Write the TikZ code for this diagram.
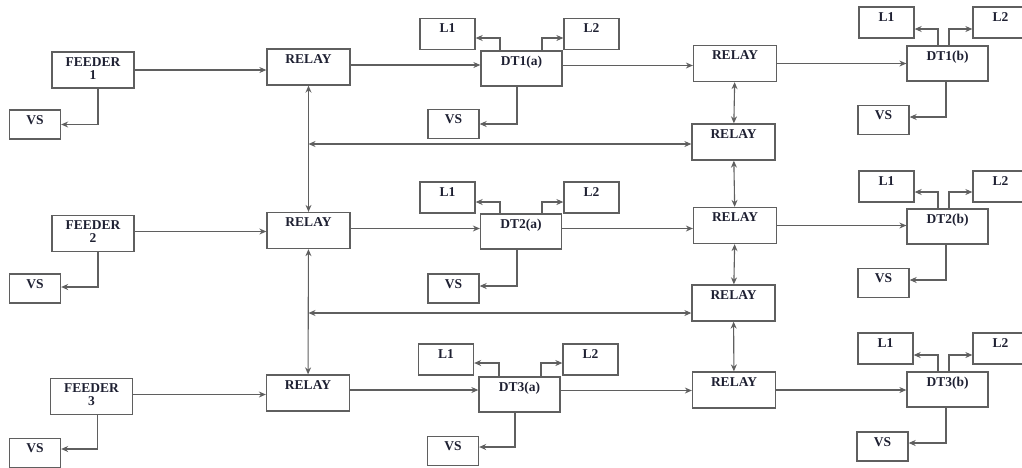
\documentclass[tikz,border=0pt]{standalone}
\usepackage{fontspec}
\setmainfont{Liberation Serif}
\usetikzlibrary{arrows.meta}
\definecolor{relaygray}{RGB}{95, 95, 95}
\definecolor{relayink}{RGB}{30, 32, 50}

\begin{document}
\begin{tikzpicture}[
    x=1pt, y=-1pt,
    box/.style={rectangle, draw=relaygray, line width=1.3pt, align=center,
                inner xsep=1pt, inner ysep=0pt, text height=14pt,
                text=relayink, font=\bfseries\fontsize{13.5}{13}\selectfont},
    feeder/.style={box, minimum width=82pt, text height=27pt, text depth=9pt},
    relay/.style={box, minimum width=83pt, text depth=22pt},
    dt/.style={box, minimum width=81pt, text depth=21pt},
    load/.style={box, minimum width=55pt, text depth=17pt},
    vs/.style={box, minimum width=51pt, text depth=15pt},
    arrow/.style={-{Stealth[length=7pt, width=6pt]}, line width=1.1pt, color=relaygray},
    dbl/.style={{Stealth[length=7pt, width=6pt]}-{Stealth[length=7pt, width=6pt]},
                line width=1.1pt, color=relaygray}
  ]
    \useasboundingbox (0,0) rectangle (1022,467);

    % row 1
    \node[feeder] (fd1)  at (93,70)     {FEEDER\\1};
    \node[vs]     (vsf1) at (35,124.5)  {VS};
    \node[relay]  (r1)   at (308.5,67)  {RELAY};
    \node[dt]     (dt1a) at (521.5,68.5) {DT1(a)};
    \node[load]   (l1a1) at (447.5,34)  {L1};
    \node[load]   (l2a1) at (591.5,34)  {L2};
    \node[vs]     (vsa1) at (453.5,124) {VS};
    \node[relay]  (rb1)  at (735,63.5)  {RELAY};
    \node[dt]     (dt1b) at (947.5,63.5) {DT1(b)};
    \node[load]   (l1b1) at (886.5,22.5) {L1};
    \node[load]   (l2b1) at (1000.5,22.5) {L2};
    \node[vs]     (vsb1) at (883.5,120) {VS};

    % middle relays
    \node[relay]  (rm1)  at (733.5,142) {RELAY};
    \node[relay]  (rm2)  at (733.5,303) {RELAY};

    % row 2
    \node[feeder] (fd2)  at (93,233.5)  {FEEDER\\2};
    \node[vs]     (vsf2) at (35,288.5)  {VS};
    \node[relay]  (r2)   at (308.5,230.5) {RELAY};
    \node[dt]     (dt2a) at (521,231.5) {DT2(a)};
    \node[load]   (l1a2) at (447.5,197.5) {L1};
    \node[load]   (l2a2) at (591.5,197.5) {L2};
    \node[vs]     (vsa2) at (453.5,288.5) {VS};
    \node[relay]  (rb2)  at (735,225.5) {RELAY};
    \node[dt]     (dt2b) at (947.5,226.5) {DT2(b)};
    \node[load]   (l1b2) at (886.5,186.5) {L1};
    \node[load]   (l2b2) at (1000.5,186.5) {L2};
    \node[vs]     (vsb2) at (883.5,283) {VS};

    % row 3
    \node[feeder] (fd3)  at (91.5,396.5) {FEEDER\\3};
    \node[vs]     (vsf3) at (35,453)    {VS};
    \node[relay]  (r3)   at (308,393)   {RELAY};
    \node[dt]     (dt3a) at (519.5,394.5) {DT3(a)};
    \node[load]   (l1a3) at (446,359.5) {L1};
    \node[load]   (l2a3) at (590.5,359.5) {L2};
    \node[vs]     (vsa3) at (453,451)   {VS};
    \node[relay]  (rb3)  at (734,390)   {RELAY};
    \node[dt]     (dt3b) at (947.5,389.5) {DT3(b)};
    \node[load]   (l1b3) at (885.5,348.5) {L1};
    \node[load]   (l2b3) at (1000.5,348.5) {L2};
    \node[vs]     (vsb3) at (882.5,446.5) {VS};

    \coordinate (bus1) at (308.5,144);
    \coordinate (bus2) at (308.5,313);

    % main chains
    \draw[arrow] (fd1) -- (fd1 -| r1.west);
    \draw[arrow] ([yshift=2pt]r1.east) -- ([yshift=2pt]r1.east -| dt1a.west);
    \draw[arrow] ([yshift=3pt]dt1a.east) -- ([yshift=3pt]dt1a.east -| rb1.west);
    \draw[arrow] (rb1) -- (dt1b);

    \draw[arrow] ([yshift=2pt]fd2.east) -- ([yshift=2pt]fd2.east -| r2.west);
    \draw[arrow] ([yshift=2pt]r2.east) -- ([yshift=2pt]r2.east -| dt2a.west);
    \draw[arrow] ([yshift=3pt]dt2a.east) -- ([yshift=3pt]dt2a.east -| rb2.west);
    \draw[arrow] (rb2) -- (rb2 -| dt2b.west);

    \draw[arrow] ([yshift=2pt]fd3.east) -- ([yshift=2pt]fd3.east -| r3.west);
    \draw[arrow] ([yshift=3pt]r3.east) -- ([yshift=3pt]r3.east -| dt3a.west);
    \draw[arrow] ([yshift=4pt]dt3a.east) -- ([yshift=4pt]dt3a.east -| rb3.west);
    \draw[arrow] (rb3) -- (rb3 -| dt3b.west);

    % relay links
    \draw[dbl] (r1) -- (r2);
    \draw[dbl] (r2) -- (r3);
    \draw[dbl] (rb1) -- (rm1);
    \draw[dbl] (rm1) -- (rb2);
    \draw[dbl] (rb2) -- (rm2);
    \draw[dbl] (rm2) -- (rb3);
    \draw[dbl] (bus1) -- (rm1.west |- bus1);
    \draw[dbl] (bus2) -- (rm2.west |- bus2);

    % feeder VS
    \draw[arrow] ([xshift=5pt]fd1.south) |- (vsf1);
    \draw[arrow] ([xshift=5pt]fd2.south) |- ([yshift=1.5pt]vsf2.east);
    \draw[arrow] ([xshift=6pt]fd3.south) |- ([yshift=4pt]vsf3.east);

    % DT (a) outputs
    \draw[arrow] ([xshift=-21.5pt]dt1a.north) |- ([yshift=-4pt]l1a1.east);
    \draw[arrow] ([xshift=20.5pt]dt1a.north) |- ([yshift=-4pt]l2a1.west);
    \draw[arrow] ([xshift=-4.5pt]dt1a.south) |- (vsa1);
    \draw[arrow] ([xshift=-21pt]dt2a.north) |- ([yshift=-4.5pt]l1a2.east);
    \draw[arrow] ([xshift=21pt]dt2a.north) |- ([yshift=-4.5pt]l2a2.west);
    \draw[arrow] ([xshift=-4pt]dt2a.south) |- ([yshift=2.5pt]vsa2.east);
    \draw[arrow] ([xshift=-20.5pt]dt3a.north) |- ([yshift=-3.5pt]l1a3.east);
    \draw[arrow] ([xshift=21.5pt]dt3a.north) |- ([yshift=-3.5pt]l2a3.west);
    \draw[arrow] ([xshift=-4.5pt]dt3a.south) |- ([yshift=4pt]vsa3.east);

    % DT (b) outputs
    \draw[arrow] ([xshift=-9.5pt]dt1b.north) |- ([yshift=-6.5pt]l1b1.east);
    \draw[arrow] ([xshift=1.5pt]dt1b.north) |- ([yshift=-6.5pt]l2b1.west);
    \draw[arrow] ([xshift=-1.5pt]dt1b.south) |- ([yshift=3pt]vsb1.east);
    \draw[arrow] ([xshift=-9.5pt]dt2b.north) |- ([yshift=-5.5pt]l1b2.east);
    \draw[arrow] ([xshift=1.5pt]dt2b.north) |- ([yshift=-5.5pt]l2b2.west);
    \draw[arrow] ([xshift=-1.5pt]dt2b.south) |- ([yshift=3pt]vsb2.east);
    \draw[arrow] ([xshift=-9.5pt]dt3b.north) |- ([yshift=-6.5pt]l1b3.east);
    \draw[arrow] ([xshift=1.5pt]dt3b.north) |- ([yshift=-6.5pt]l2b3.west);
    \draw[arrow] ([xshift=-1.5pt]dt3b.south) |- ([yshift=3.5pt]vsb3.east);
  \end{tikzpicture}
\end{document}
